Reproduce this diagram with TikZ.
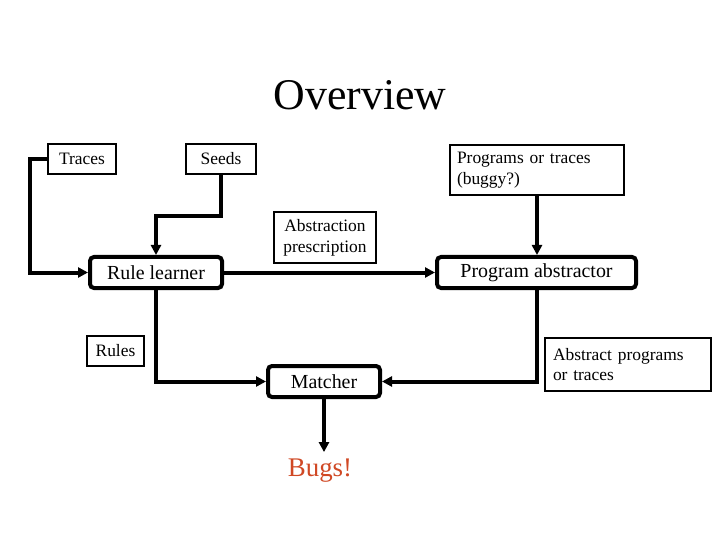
\documentclass[tikz,border=0pt]{standalone}
\usepackage{fontspec}
\setmainfont{Liberation Serif}
\usetikzlibrary{arrows.meta}
\definecolor{bugred}{RGB}{208,72,36}

\begin{document}
\begin{tikzpicture}[x=1bp,y=-1bp,>={Triangle[length=10bp,width=10bp]},
		flow/.style={->,line width=4bp},
		data node/.style={draw,line width=1.5bp,inner sep=0pt,font=\fontsize{17.5}{21}\selectfont},
		step node/.style={draw,line width=4bp,rounded corners=4bp,inner sep=0pt,
			minimum height=31bp,font=\fontsize{20}{24}\selectfont}]
		
		\useasboundingbox (0,0) rectangle (720,540);
		\node[font=\fontsize{44}{50}\selectfont] (title) at (360,95) {Overview};
		
		\node[data node, minimum width=68bp, minimum height=30bp] (traces) at (82,159) {Traces};
		\node[data node, minimum width=70bp, minimum height=30bp] (seeds) at (221,159) {Seeds};
		\node[data node, text width=160bp, inner xsep=7bp, minimum height=50bp, align=left] (progs) at (537,170) {Programs or traces\\(buggy?)};
		\node[data node, minimum width=102bp, minimum height=51bp, align=center] (prescr) at (325,237.5) {Abstraction\\prescription};
		\node[step node, minimum width=132bp] (learner) at (156,272.5) {Rule learner};
		\node[step node, minimum width=199bp] (abstractor) at (536.5,272.5) {Program abstractor};
		\node[data node, minimum width=57bp, minimum height=30bp] (rules) at (115.5,351) {Rules};
		\node[data node, text width=150bp, inner xsep=8bp, minimum height=53bp, align=left] (absprogs) at (628,364.5) {Abstract programs\\or traces};
		\node[step node, minimum width=112bp] (matcher) at (324,381.5) {Matcher};
		\node[text=bugred, font=\fontsize{27}{30}\selectfont, inner sep=1bp] (bugs) at (320,471) {Bugs!};
		
		\draw[flow] (traces.west) -- ++(-17,0) |- (learner.west);
		\draw[flow] (seeds.south) -- ++(0,41) -| (learner.north);
		\draw[flow] (learner.east) -- (abstractor.west);
		\draw[flow] (progs.south) -- (progs.south |- abstractor.north);
		\draw[flow] (learner.south) |- (matcher.west);
		\draw[flow] (abstractor.south) |- (matcher.east);
		\draw[flow, shorten >=6bp] (matcher.south) -- (matcher.south |- bugs.north);
\end{tikzpicture}
\end{document}
